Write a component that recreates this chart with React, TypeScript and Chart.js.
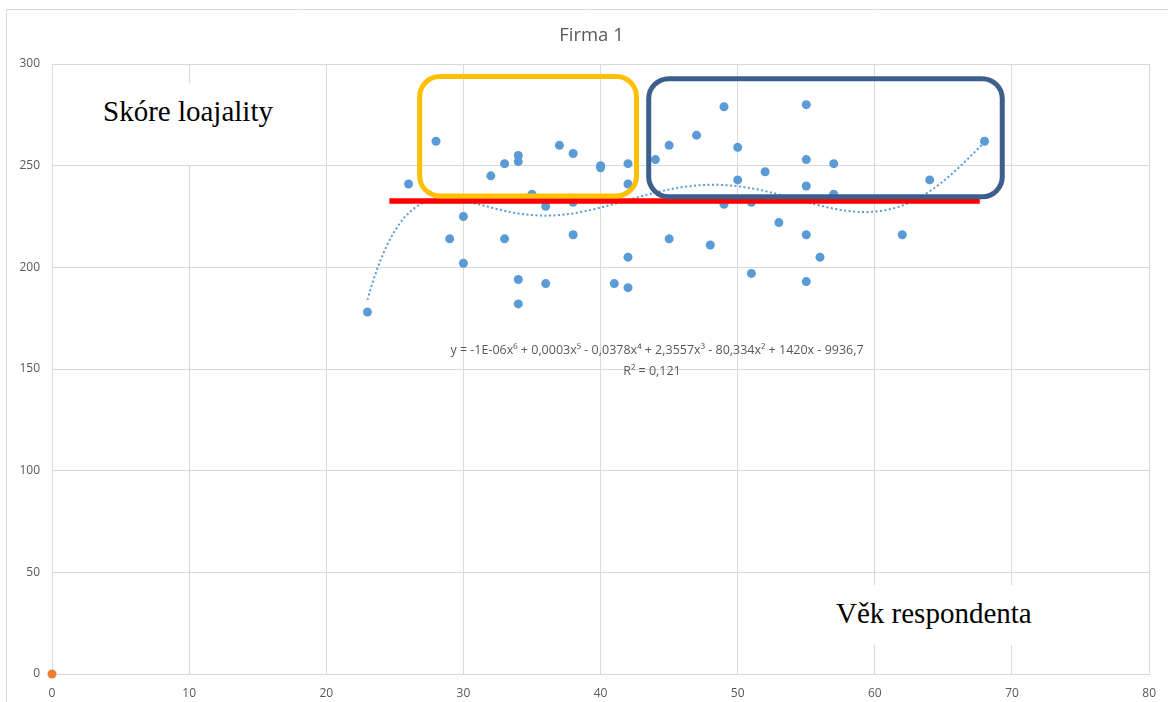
import React, { useEffect, useRef } from "react";
import { Chart, registerables } from "chart.js";

Chart.register(...registerables);

// ---- data ----
const ages = [23, 26, 28, 29, 30, 30, 32, 33, 33, 34, 34, 34, 34, 35, 36, 36, 37, 38, 38, 38, 40, 40, 41, 42, 42, 42, 42, 44, 45, 45, 47, 48, 49, 49, 50, 50, 51, 51, 52, 53, 55, 55, 55, 55, 55, 56, 57, 57, 62, 64, 68];
const scores = [178, 241, 262, 214, 225, 202, 245, 251, 214, 255, 252, 194, 182, 236, 230, 192, 260, 256, 232, 216, 250, 249, 192, 251, 241, 205, 190, 253, 260, 214, 265, 211, 279, 231, 259, 243, 232, 197, 247, 222, 280, 253, 240, 216, 193, 205, 251, 236, 216, 243, 262];
const originX = [0];
const originY = [0];
const xTickValues = [0, 10, 20, 30, 40, 50, 60, 70, 80];
const yTickValues = [0, 50, 100, 150, 200, 250, 300];
const TITLE = "Firma 1";
const EQUATION = "y = -1E-06x⁶ + 0,0003x⁵ - 0,0378x⁴ + 2,3557x³ - 80,334x² + 1420x - 9936,7";
const R2_LABEL = "R² = 0,121";
const Y_LABEL = "Skóre loajality";
const X_LABEL = "Věk respondenta";
// annotations in data units
const refLineX = [24.6, 67.65];
const refLineY = 232.6;
const yellowBox = [26.81, 42.62, 235.1, 293.8];
const blueBox = [43.51, 69.29, 234.7, 292.8];

function polyFit(xs: number[], ys: number[], deg: number) {
  const n = deg + 1;
  const cx = xs.reduce((a, b) => a + b, 0) / xs.length;
  const sx = 25;
  const A: number[][] = Array.from({ length: n }, () => new Array(n + 1).fill(0));
  xs.forEach((x, k) => {
    const t = (x - cx) / sx;
    const p: number[] = [];
    for (let i = 0; i < n; i++) p.push(Math.pow(t, i));
    for (let i = 0; i < n; i++) {
      for (let j = 0; j < n; j++) A[i][j] += p[i] * p[j];
      A[i][n] += p[i] * ys[k];
    }
  });
  for (let c = 0; c < n; c++) {
    let piv = c;
    for (let r = c + 1; r < n; r++) if (Math.abs(A[r][c]) > Math.abs(A[piv][c])) piv = r;
    [A[c], A[piv]] = [A[piv], A[c]];
    for (let r = 0; r < n; r++) {
      if (r === c) continue;
      const f = A[r][c] / A[c][c];
      for (let k = c; k <= n; k++) A[r][k] -= f * A[c][k];
    }
  }
  const coef = A.map((row, i) => row[n] / row[i]);
  return (x: number) => {
    const t = (x - cx) / sx;
    let s = 0;
    for (let i = n - 1; i >= 0; i--) s = s * t + coef[i];
    return s;
  };
}

const boxPlugin = {
  id: "boxes",
  beforeDraw(chart: any) {
    const ctx = chart.ctx;
    ctx.save();
    ctx.strokeStyle = "#d9d9d9";
    ctx.lineWidth = 1;
    ctx.beginPath();
    ctx.moveTo(6.5, chart.height);
    ctx.lineTo(6.5, 9.5);
    ctx.lineTo(chart.width, 9.5);
    ctx.stroke();
    ctx.restore();
  },
  afterDatasetsDraw(chart: any) {
    const ctx = chart.ctx;
    const xs = chart.scales.x;
    const ys = chart.scales.y;
    const draw = (b: number[], color: string) => {
      const l = xs.getPixelForValue(b[0]);
      const r = xs.getPixelForValue(b[1]);
      const bt = ys.getPixelForValue(b[2]);
      const t = ys.getPixelForValue(b[3]);
      const rad = 20;
      ctx.save();
      ctx.strokeStyle = color;
      ctx.lineWidth = 5;
      ctx.beginPath();
      ctx.moveTo(l + rad, t);
      ctx.arcTo(r, t, r, bt, rad);
      ctx.arcTo(r, bt, l, bt, rad);
      ctx.arcTo(l, bt, l, t, rad);
      ctx.arcTo(l, t, r, t, rad);
      ctx.closePath();
      ctx.stroke();
      ctx.restore();
    };
    draw(yellowBox, "#ffc000");
    draw(blueBox, "#3d5f8c");
  },
};

export default function App() {
  const ref = useRef<HTMLCanvasElement>(null);
  useEffect(() => {
    const fit = polyFit(ages, scores, 6);
    const xmin = Math.min(...ages);
    const xmax = Math.max(...ages);
    const trend: { x: number; y: number }[] = [];
    for (let x = xmin; x <= xmax + 1e-9; x += 0.25) trend.push({ x, y: fit(x) });

    const chart = new Chart(ref.current!, {
      type: "scatter",
      data: {
        datasets: [
          {
            data: [
              { x: refLineX[0], y: refLineY },
              { x: refLineX[1], y: refLineY },
            ],
            showLine: true,
            borderColor: "#ff0000",
            borderWidth: 5.5,
            pointRadius: 0,
            order: 0,
          } as any,
          {
            data: ages.map((x, i) => ({ x, y: scores[i] })),
            backgroundColor: "#5b9bd5",
            borderColor: "#5b9bd5",
            pointRadius: 4.5,
            borderWidth: 0,
            order: 1,
          },
          {
            data: originX.map((x, i) => ({ x, y: originY[i] })),
            backgroundColor: "#ed7d31",
            borderColor: "#ed7d31",
            pointRadius: 4.5,
            borderWidth: 0,
            clip: false,
            order: 1,
          } as any,
          {
            data: trend,
            showLine: true,
            borderColor: "#5b9bd5",
            borderWidth: 2,
            borderDash: [2, 2.5],
            pointRadius: 0,
            order: 2,
          } as any,
        ],
      },
      options: {
        animation: false,
        responsive: true,
        maintainAspectRatio: false,
        layout: { padding: { top: 64, right: 16, left: 0, bottom: 0 } },
        plugins: { legend: { display: false }, tooltip: { enabled: false } },
        scales: {
          x: {
            type: "linear",
            min: xTickValues[0],
            max: xTickValues[xTickValues.length - 1],
            afterFit: (s: any) => {
              s.height = 28;
            },
            afterBuildTicks: (s: any) => {
              s.ticks = xTickValues.map((v) => ({ value: v }));
            },
            ticks: {
              color: "#595959",
              font: { family: "'Open Sans'", size: 12 },
              padding: 12,
              maxRotation: 0,
            },
            grid: { color: "#d9d9d9", drawTicks: false, lineWidth: 1 },
            border: { color: "#d9d9d9" },
          },
          y: {
            type: "linear",
            min: yTickValues[0],
            max: yTickValues[yTickValues.length - 1],
            afterFit: (s: any) => {
              s.width = 52;
            },
            afterBuildTicks: (s: any) => {
              s.ticks = yTickValues.map((v) => ({ value: v }));
            },
            ticks: {
              color: "#595959",
              font: { family: "'Open Sans'", size: 12 },
              padding: 12,
            },
            grid: { color: "#d9d9d9", drawTicks: false, lineWidth: 1 },
            border: { color: "#d9d9d9" },
          },
        },
      },
      plugins: [boxPlugin],
    });
    return () => chart.destroy();
  }, []);

  const serif = "'Liberation Serif', 'Times New Roman', serif";
  return (
    <div style={{ position: "fixed", left: 0, top: 0, width: 1168, height: 702, background: "#fff", overflow: "hidden" }}>
      <canvas ref={ref} />
      <div
        style={{
          position: "absolute",
          left: 0,
          width: 1183,
          top: 25.3,
          textAlign: "center",
          font: "18.5px 'Open Sans'",
          lineHeight: "18.5px",
          color: "#595959",
        }}
      >
        {TITLE}
      </div>
      <div style={{ position: "absolute", left: 80, top: 83, width: 220, height: 82, background: "#fff" }}>
        <span style={{ position: "absolute", left: 23, top: 13.7, fontFamily: serif, fontSize: 29, lineHeight: "29px", whiteSpace: "nowrap", color: "#000" }}>
          {Y_LABEL}
        </span>
      </div>
      <div style={{ position: "absolute", left: 815, top: 585, width: 240, height: 60, background: "#fff" }}>
        <span style={{ position: "absolute", left: 21, top: 13.7, fontFamily: serif, fontSize: 29, lineHeight: "29px", whiteSpace: "nowrap", color: "#000" }}>
          {X_LABEL}
        </span>
      </div>
      <div style={{ position: "absolute", left: 357, width: 600, top: 344, textAlign: "center", font: "12.5px 'Open Sans'", lineHeight: "12.5px", color: "#595959", whiteSpace: "nowrap" }}>
        {EQUATION}
      </div>
      <div style={{ position: "absolute", left: 352, width: 600, top: 365, textAlign: "center", font: "12.5px 'Open Sans'", lineHeight: "12.5px", color: "#595959", whiteSpace: "nowrap" }}>
        {R2_LABEL}
      </div>
    </div>
  );
}
